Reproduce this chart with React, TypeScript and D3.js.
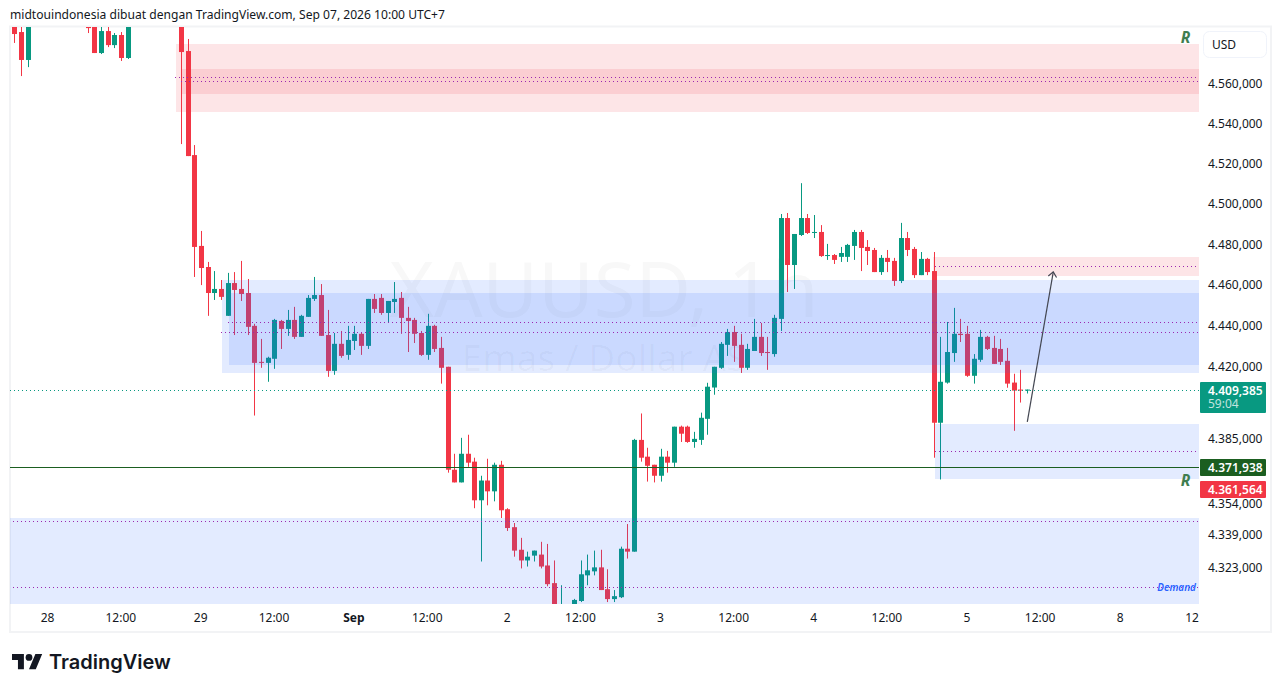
import React, { useEffect, useRef } from 'react';
import * as d3 from 'd3';

// hourly bars, index 0 = Aug 28 00:00 (bars above/below the visible range are left out)
const barIndex = [
  -5, -4, -3, 6, 7, 8, 9, 10, 11, 12, 20, 21, 22, 23, 24, 25, 26, 27, 28, 29, 30, 31, 32, 33, 34, 35, 36, 37, 38, 39, 40,
  41, 42, 43, 44, 45, 46, 47, 48, 49, 50, 51, 52, 53, 54, 55, 56, 57, 58, 59, 60, 61, 62, 63, 64, 65, 66, 67, 68, 69, 70,
  71, 72, 73, 74, 75, 76, 77, 79, 80, 81, 82, 83, 84, 85, 86, 87, 88, 89, 90, 91, 92, 93, 94, 95, 96, 97, 98, 99, 100,
  101, 102, 103, 104, 105, 106, 107, 108, 109, 110, 111, 112, 113, 114, 115, 116, 117, 118, 119, 120, 121, 122, 123, 124,
  125, 126, 127, 128, 129, 130, 131, 132, 133, 134, 135, 136, 137, 138, 139, 140, 141, 142, 143, 144, 145, 146, 147,
];
const openPrice = [
  4592.3, 4586.2, 4572.1, 4590.2, 4594.8, 4575.6, 4586.7, 4579.6, 4584.7, 4573.1, 4597.3, 4576.6, 4524.4, 4479.3, 4468.9, 4456.1, 4458.1, 4444.9, 4461.0, 4458.1, 4456.1,
  4440.0, 4422.4, 4421.9, 4423.9, 4442.4, 4438.5, 4442.9, 4434.6, 4444.4, 4453.2,
  4455.1, 4435.5, 4418.0, 4431.2, 4425.8, 4432.6, 4436.1, 4430.2, 4453.2, 4453.7, 4446.3, 4451.7, 4453.7, 4443.9, 4442.9, 4436.5, 4425.8, 4440.0, 4429.2, 4420.0,
  4370.1, 4364.0, 4377.8, 4374.0, 4355.4, 4364.9, 4359.7, 4372.5, 4351.1, 4342.5,
  4331.7, 4326.6, 4328.9, 4329.4, 4324.2, 4315.8, 4300.4, 4303.2, 4307.3, 4319.5, 4321.4, 4323.3, 4312.9, 4308.2, 4309.1, 4332.2, 4330.8, 4384.5, 4376.4, 4372.5, 4367.2, 4376.4,
  4373.5, 4390.9, 4390.9, 4383.5, 4384.5, 4394.7, 4409.9,
  4419.5, 4430.7, 4437.0, 4430.7, 4419.5, 4427.7, 4434.6, 4427.2, 4426.2, 4443.4, 4493.1, 4469.9, 4484.7, 4493.1, 4485.7, 4486.2, 4474.3, 4474.8, 4473.9, 4473.9, 4479.3, 4486.2, 4478.8, 4477.3,
  4466.4, 4473.4, 4471.9, 4462.0, 4483.2, 4477.8, 4464.9, 4472.9, 4466.9, 4392.8, 4412.3, 4426.7, 4436.1, 4436.1, 4415.6, 4423.4, 4434.6, 4429.2, 4428.7, 4422.9, 4412.3, 4408.9, 4408.4,
];
const highPrice = [
  4594.8, 4592.3, 4597.3, 4592.3, 4597.3, 4592.3, 4592.3, 4585.7, 4586.2, 4594.8, 4599.8, 4582.7, 4529.4, 4486.7, 4471.4, 4466.9, 4462.5, 4466.0, 4466.4, 4471.9, 4463.0,
  4441.0, 4433.6, 4424.9, 4443.4, 4442.9, 4447.8, 4449.3, 4445.4, 4455.1, 4464.0,
  4460.5, 4447.8, 4436.5, 4437.5, 4440.0, 4440.0, 4436.5, 4453.2, 4455.6, 4455.6, 4452.2, 4461.5, 4456.6, 4449.3, 4443.9, 4437.5, 4445.9, 4440.5, 4434.6, 4420.0,
  4377.8, 4385.5, 4387.0, 4375.9, 4367.2, 4375.4, 4373.5, 4374.4, 4351.6, 4344.5,
  4337.4, 4330.8, 4331.3, 4335.5, 4334.5, 4326.6, 4314.8, 4308.3, 4326.6, 4329.4, 4331.3, 4331.7, 4322.4, 4312.5, 4333.2, 4344.0, 4385.0, 4397.3, 4380.7, 4372.5, 4380.2, 4379.2,
  4390.9, 4391.4, 4391.4, 4388.4, 4397.7, 4412.2, 4420.0,
  4432.1, 4438.5, 4440.0, 4436.1, 4431.2, 4443.4, 4441.4, 4434.6, 4445.4, 4495.1, 4495.6, 4485.2, 4510.4, 4495.1, 4494.6, 4489.6, 4480.3, 4475.3, 4478.8, 4480.3, 4487.2, 4487.2, 4482.2, 4478.3,
  4474.8, 4477.3, 4473.4, 4490.7, 4486.2, 4478.8, 4476.3, 4473.4, 4476.3, 4434.6, 4441.9, 4448.8, 4443.4, 4440.0, 4426.2, 4438.0, 4435.1, 4435.1, 4433.6, 4429.2, 4416.6, 4418.5, 4408.9,
];
const lowPrice = [
  4580.7, 4564.0, 4568.5, 4585.7, 4575.6, 4575.1, 4578.6, 4578.1, 4571.6, 4572.6, 4529.9, 4523.9, 4464.0, 4460.0, 4444.9, 4452.7, 4452.7, 4444.9, 4435.5, 4452.2, 4435.5,
  4396.3, 4419.5, 4412.7, 4419.0, 4428.7, 4435.1, 4433.6, 4434.6, 4444.4, 4452.2,
  4435.1, 4415.1, 4416.1, 4424.4, 4423.4, 4428.2, 4425.8, 4428.7, 4446.3, 4445.4, 4441.4, 4446.3, 4436.1, 4427.2, 4431.6, 4425.3, 4423.4, 4427.2, 4411.8, 4368.7,
  4364.0, 4364.0, 4371.5, 4351.6, 4326.1, 4353.0, 4354.9, 4346.9, 4340.7, 4328.4,
  4322.8, 4323.7, 4326.1, 4322.8, 4314.3, 4301.8, 4299.5, 4301.4, 4306.8, 4314.8, 4319.5, 4312.5, 4306.8, 4306.8, 4308.7, 4327.5, 4330.8, 4374.0, 4364.4, 4364.0, 4364.4, 4368.7,
  4371.5, 4383.5, 4383.1, 4380.7, 4382.1, 4387.0, 4406.4,
  4419.0, 4425.3, 4422.4, 4417.0, 4418.5, 4427.7, 4425.3, 4418.5, 4424.9, 4437.5, 4456.6, 4458.1, 4484.2, 4485.2, 4483.2, 4473.9, 4472.4, 4470.4, 4471.4, 4471.4, 4472.4, 4466.9, 4469.9, 4466.4,
  4465.0, 4466.4, 4459.6, 4461.0, 4474.3, 4463.5, 4464.9, 4464.9, 4375.9, 4365.4, 4411.8, 4422.4, 4432.1, 4415.1, 4411.8, 4422.4, 4428.2, 4421.4, 4420.9, 4409.8, 4388.9, 4402.6, 4407.0,
];
const closePrice = [
  4585.2, 4572.1, 4594.8, 4588.2, 4575.6, 4586.7, 4579.6, 4584.7, 4573.1, 4592.3, 4576.1, 4523.9, 4478.8, 4468.4, 4456.1, 4458.1, 4454.2, 4461.0, 4457.6, 4455.6, 4439.5,
  4421.9, 4421.9, 4424.4, 4442.9, 4438.5, 4442.9, 4434.6, 4444.9, 4453.7, 4455.1,
  4435.1, 4418.0, 4431.2, 4425.3, 4433.1, 4436.1, 4430.2, 4453.2, 4448.3, 4446.3, 4452.2, 4453.2, 4443.9, 4442.4, 4436.1, 4425.8, 4440.0, 4428.7, 4419.5, 4370.1,
  4364.0, 4377.8, 4373.5, 4355.4, 4364.9, 4359.7, 4372.5, 4350.6, 4342.1, 4331.3,
  4326.6, 4328.4, 4331.3, 4323.7, 4315.3, 4304.1, 4304.1, 4307.8, 4320.0, 4321.9, 4323.3, 4312.5, 4308.2, 4309.6, 4332.2, 4330.8, 4384.5, 4375.9, 4372.0, 4367.2, 4376.4, 4373.5,
  4390.9, 4387.5, 4383.5, 4385.0, 4395.2, 4410.3, 4420.0,
  4431.2, 4437.0, 4430.2, 4419.5, 4428.7, 4434.6, 4426.7, 4426.7, 4443.9, 4493.1, 4469.9, 4485.2, 4493.1, 4485.7, 4486.2, 4474.3, 4474.8, 4472.4, 4475.8, 4479.8, 4486.2, 4478.3, 4476.8, 4466.4,
  4473.4, 4471.4, 4462.0, 4483.2, 4477.3, 4464.9, 4472.9, 4466.4, 4392.8, 4412.7, 4427.2, 4436.1, 4435.5, 4415.6, 4423.9, 4434.6, 4428.7, 4421.4, 4422.4, 4411.8, 4408.4, 4408.4, 4408.9,
];

const priceTicks = [4560, 4540, 4520, 4500, 4480, 4460, 4440, 4420, 4385, 4354, 4339, 4323];

const timeTickBars = [0, 11, 23, 34, 46, 57, 69, 80, 92, 103, 115, 126, 138, 149, 161, 171.8];
const timeTickLabels = ['28', '12:00', '29', '12:00', 'Sep', '12:00', '2', '12:00', '3', '12:00', '4', '12:00', '5', '12:00', '8', '12'];

// [from bar, upper price, lower price]
const pinkZones = [
  [19.2, 4580.2, 4545.9],
  [20, 4567.5, 4555.0],
  [132.85, 4473.8, 4464.5],
];
const blueZones = [
  [26.1, 4462.5, 4417.0],
  [27.2, 4456.1, 4420.9],
  [133.15, 4392.3, 4365.7],
  [-7, 4347.0, 4306.0],
];
// [from bar, price]
const levelLines = [
  [19.05, 4563.3],
  [20, 4561.5],
  [27, 4441.8],
  [26, 4436.9],
  [133.1, 4469.3],
  [133.1, 4379.0],
  [-7, 4345.3],
  [-7, 4313.8],
];
const lastPriceLine = 4408.5;
const alertPriceLine = 4371.3;
const bidPriceLine = 4360.7;
const arrowFrom = [147, 4393.2];
const arrowTo = [150.9, 4466.5];

const W = 1281;
const H = 692;
const plot = { left: 10, right: 1199, top: 27, bottom: 604 };

const App: React.FC = () => {
  const ref = useRef<SVGSVGElement>(null);

  useEffect(() => {
    if (!ref.current) return;
    const svg = d3.select(ref.current);
    svg.selectAll('*').remove();

    const font = '"Noto Sans", sans-serif';
    const ink = '#131722';
    const up = '#089981';
    const down = '#f23645';

    const x = d3.scaleLinear().domain([0, 147]).range([48, 1027.3]);
    const y = d3.scaleLog().domain([4323, 4560]).range([568, 84]);
    const px = (i: number) => Math.round(x(i) - 0.2);

    svg.append('clipPath').attr('id', 'plot-clip').append('rect')
      .attr('x', plot.left).attr('y', plot.top)
      .attr('width', plot.right - plot.left).attr('height', plot.bottom - plot.top);

    // frame
    svg.append('rect').attr('x', 10).attr('y', 26.5).attr('width', 1261).attr('height', 605.5)
      .attr('fill', 'none').attr('stroke', '#f2f3f5').attr('stroke-width', 2);

    svg.append('text').attr('x', 10).attr('y', 19)
      .attr('font-family', font).attr('font-size', 12.1).attr('fill', ink)
      .text('midtouindonesia dibuat dengan TradingView.com, Sep 07, 2026 10:00 UTC+7');

    const g = svg.append('g').attr('clip-path', 'url(#plot-clip)');

    // watermark
    g.append('text').attr('x', 604).attr('y', 317).attr('text-anchor', 'middle')
      .attr('font-family', font).attr('font-size', 76).attr('fill', 'rgba(19,23,34,0.032)')
      .text('XAUUSD, 1h');
    g.append('text').attr('x', 604).attr('y', 371).attr('text-anchor', 'middle')
      .attr('font-family', font).attr('font-size', 37).attr('fill', 'rgba(19,23,34,0.032)')
      .text('Emas / Dollar AS');

    // candles
    const bars = g.append('g');
    barIndex.forEach((i, n) => {
      const o = openPrice[n];
      const c = closePrice[n];
      const color = c >= o ? up : down;
      bars.append('rect')
        .attr('x', px(i)).attr('width', 1)
        .attr('y', y(highPrice[n])).attr('height', y(lowPrice[n]) - y(highPrice[n]))
        .attr('fill', color);
      const top = y(Math.max(o, c));
      const h = Math.max(y(Math.min(o, c)) - top, 1);
      bars.append('rect')
        .attr('x', px(i) - 2).attr('width', 5)
        .attr('y', top).attr('height', h)
        .attr('fill', color);
    });

    // zones sit over the candles
    const zone = (d: number[], fill: string) =>
      g.append('rect')
        .attr('x', Math.round(x(d[0]))).attr('width', plot.right - Math.round(x(d[0])))
        .attr('y', Math.round(y(d[1]))).attr('height', Math.round(y(d[2])) - Math.round(y(d[1])))
        .attr('fill', fill);
    pinkZones.forEach(d => zone(d, 'rgba(242,54,69,0.13)'));
    blueZones.forEach(d => zone(d, 'rgba(41,98,255,0.13)'));

    levelLines.forEach(([from, price]) => {
      g.append('line')
        .attr('x1', Math.round(x(from))).attr('x2', plot.right)
        .attr('y1', Math.floor(y(price)) + 0.5).attr('y2', Math.floor(y(price)) + 0.5)
        .attr('stroke', '#9c27b0').attr('stroke-dasharray', '1 3');
    });

    g.append('line')
      .attr('x1', plot.left).attr('x2', plot.right)
      .attr('y1', Math.floor(y(lastPriceLine)) + 0.5).attr('y2', Math.floor(y(lastPriceLine)) + 0.5)
      .attr('stroke', up).attr('stroke-dasharray', '1 3');
    g.append('line')
      .attr('x1', plot.left).attr('x2', plot.right)
      .attr('y1', Math.floor(y(alertPriceLine)) + 0.5).attr('y2', Math.floor(y(alertPriceLine)) + 0.5)
      .attr('stroke', '#1b5e20');

    // arrow
    const ax0 = x(arrowFrom[0]);
    const ay0 = y(arrowFrom[1]);
    const ax1 = x(arrowTo[0]);
    const ay1 = y(arrowTo[1]);
    const angle = Math.atan2(ay1 - ay0, ax1 - ax0);
    const head = (a: number) => [ax1 - 6.5 * Math.cos(angle + a), ay1 - 6.5 * Math.sin(angle + a)];
    g.append('path')
      .attr('d', d3.line()([[ax0, ay0], [ax1, ay1]]) as string)
      .attr('stroke', '#434651').attr('stroke-width', 1.2).attr('fill', 'none');
    g.append('path')
      .attr('d', d3.line()([head(0.7) as [number, number], [ax1, ay1], head(-0.7) as [number, number]]) as string)
      .attr('stroke', '#434651').attr('stroke-width', 1.2).attr('fill', 'none');

    // chart labels
    [42.5, 486].forEach(ty => {
      g.append('text').attr('x', 1185.5).attr('y', ty).attr('text-anchor', 'middle')
        .attr('font-family', font).attr('font-size', 15.5).attr('font-weight', 700).attr('font-style', 'italic')
        .attr('fill', '#3f7d50').text('R');
    });
    g.append('text').attr('x', 1196).attr('y', y(4313.8) + 3.5).attr('text-anchor', 'end')
      .attr('font-family', font).attr('font-size', 10).attr('font-weight', 600).attr('font-style', 'italic').attr('fill', '#2962ff')
      .text('Demand');

    // axes
    const fmt = d3.formatLocale({ decimal: ',', thousands: '.', grouping: [3], currency: ['', ''] }).format(',.3f');
    const yAxis = svg.append('g').attr('transform', `translate(${plot.right},0)`)
      .call(d3.axisRight(y).tickValues(priceTicks).tickSize(0).tickPadding(9).tickFormat(d => fmt(+d)));
    yAxis.select('.domain').remove();
    yAxis.selectAll('text').attr('font-family', font).attr('font-size', 12).attr('fill', ink);

    const xAxis = svg.append('g').attr('transform', `translate(-1,${plot.bottom})`)
      .call(d3.axisBottom(x).tickValues(timeTickBars).tickSize(0).tickPadding(9)
        .tickFormat((_, n) => timeTickLabels[n]));
    xAxis.select('.domain').remove();
    xAxis.selectAll('text').attr('font-family', font).attr('font-size', 12).attr('fill', ink)
      .attr('font-weight', (_, n) => (timeTickLabels[n] === 'Sep' ? 700 : 400));

    // currency box
    svg.append('rect').attr('x', 1203.5).attr('y', 31.5).attr('width', 63).attr('height', 26).attr('rx', 6)
      .attr('fill', '#fff').attr('stroke', '#f0f3fa');
    svg.append('text').attr('x', 1212).attr('y', 49)
      .attr('font-family', font).attr('font-size', 12).attr('fill', ink).text('USD');

    // price tags
    const tag = (price: number, h: number, fill: string, label: string, sub?: string) => {
      const top = Math.floor(y(price)) - 8;
      svg.append('rect').attr('x', 1200).attr('y', top).attr('width', 66).attr('height', h).attr('rx', 1).attr('fill', fill);
      svg.append('text').attr('x', 1208).attr('y', top + 13)
        .attr('font-family', font).attr('font-size', 12).attr('font-weight', 600).attr('fill', '#fff').text(label);
      if (sub) {
        svg.append('text').attr('x', 1208).attr('y', top + 26)
          .attr('font-family', font).attr('font-size', 12).attr('fill', 'rgba(255,255,255,0.75)').text(sub);
      }
    };
    tag(lastPriceLine, 31, up, '4.409,385', '59:04');
    tag(alertPriceLine, 17, '#1b5e20', '4.371,938');
    tag(bidPriceLine, 17, down, '4.361,564');

    // logo
    const logo = svg.append('g').attr('transform', 'translate(12,650.6) scale(0.85)').attr('fill', ink);
    logo.append('path').attr('d', 'M14 22H7V11H0V4h14v18zM28 22h-8l7.5-18h8L28 22z');
    logo.append('circle').attr('cx', 20).attr('cy', 8).attr('r', 4);
    svg.append('text').attr('x', 49).attr('y', 669)
      .attr('font-family', 'Inter, sans-serif').attr('font-size', 20).attr('font-weight', 600).attr('fill', ink)
      .text('TradingView');
  }, []);

  return (
    <svg ref={ref} width={W} height={H} style={{ position: 'absolute', left: 0, top: 0, display: 'block', background: '#fff' }}></svg>
  );
};

export default App;
